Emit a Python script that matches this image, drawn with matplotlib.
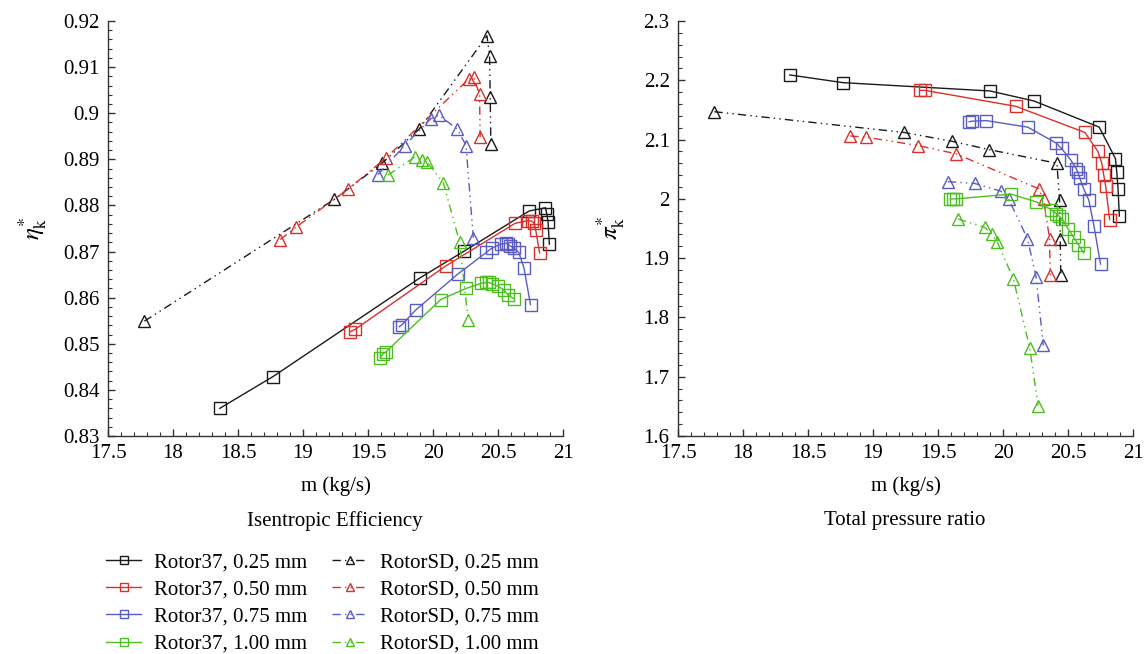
import numpy as np
import matplotlib
matplotlib.use("Agg")
import matplotlib.pyplot as plt
from matplotlib.ticker import MultipleLocator

plt.rcParams['font.family'] = ['Liberation Serif', 'DejaVu Serif']
plt.rcParams['mathtext.fontset'] = 'stix'

# ---- data ----
gaps = ['0.25 mm', '0.50 mm', '0.75 mm', '1.00 mm']
colors = ['#1a1a1a', '#d9302c', '#5b5bc4', '#4cbf1f']

# Rotor37 mass flow (kg/s)
m37_025 = [18.36, 18.77, 19.90, 20.24, 20.74, 20.865, 20.875, 20.885, 20.895]
m37_050 = [19.36, 19.40, 20.10, 20.63, 20.73, 20.76, 20.775, 20.79, 20.82]
m37_075 = [19.74, 19.76, 19.87, 20.19, 20.41, 20.45, 20.52, 20.565, 20.575,
           20.59, 20.62, 20.66, 20.70, 20.75]
m37_100 = [19.595, 19.615, 19.64, 20.06, 20.254, 20.37, 20.41, 20.43, 20.455,
           20.50, 20.543, 20.58, 20.62]

# Rotor37 isentropic efficiency
eff37_025 = [0.8360, 0.8429, 0.8643, 0.8701, 0.8788, 0.8795, 0.8782, 0.8764, 0.8716]
eff37_050 = [0.8526, 0.8531, 0.8669, 0.8761, 0.8767, 0.8766, 0.8762, 0.8747, 0.8697]
eff37_075 = [0.8537, 0.8541, 0.8574, 0.8651, 0.8698, 0.8707, 0.8716, 0.8718, 0.8716,
             0.8713, 0.8708, 0.8698, 0.8664, 0.8585]
eff37_100 = [0.8470, 0.8478, 0.8483, 0.8596, 0.8620, 0.8631, 0.8633, 0.8633, 0.8630,
             0.8625, 0.8617, 0.8605, 0.8598]

# Rotor37 total pressure ratio
pr37_025 = [2.209, 2.196, 2.182, 2.165, 2.121, 2.068, 2.046, 2.017, 1.971]
pr37_050 = [2.183, 2.183, 2.156, 2.112, 2.080, 2.060, 2.040, 2.021, 1.965]
pr37_075 = [2.130, 2.131, 2.132, 2.121, 2.094, 2.085, 2.066, 2.050, 2.045,
            2.036, 2.017, 1.998, 1.954, 1.890]
pr37_100 = [2.000, 2.000, 2.000, 2.008, 1.995, 1.982, 1.975, 1.971, 1.966,
            1.950, 1.935, 1.923, 1.909]

# RotorSD mass flow (kg/s)
msd_025 = [17.78, 19.24, 19.61, 19.895, 20.415, 20.435, 20.44, 20.445]
msd_050 = [18.825, 18.947, 19.345, 19.638, 20.274, 20.312, 20.358, 20.363]
msd_075 = [19.576, 19.782, 19.983, 20.045, 20.188, 20.254, 20.31]
msd_100 = [19.654, 19.859, 19.912, 19.954, 20.08, 20.205, 20.27]

# RotorSD isentropic efficiency
effsd_025 = [0.8549, 0.8813, 0.8892, 0.8966, 0.9168, 0.9124, 0.9035, 0.8934]
effsd_050 = [0.8726, 0.8753, 0.8835, 0.8903, 0.9074, 0.9078, 0.9041, 0.8948]
effsd_075 = [0.8867, 0.8930, 0.8988, 0.8996, 0.8965, 0.8930, 0.8730]
effsd_100 = [0.8866, 0.8905, 0.8899, 0.8894, 0.8849, 0.8720, 0.8552]

# RotorSD total pressure ratio
prsd_025 = [2.147, 2.112, 2.097, 2.083, 2.060, 1.998, 1.933, 1.871]
prsd_050 = [2.106, 2.104, 2.090, 2.076, 2.017, 1.999, 1.933, 1.871]
prsd_075 = [2.029, 2.026, 2.013, 1.999, 1.933, 1.869, 1.753]
prsd_100 = [1.966, 1.952, 1.941, 1.928, 1.865, 1.749, 1.651]

m37 = [m37_025, m37_050, m37_075, m37_100]
eff37 = [eff37_025, eff37_050, eff37_075, eff37_100]
pr37 = [pr37_025, pr37_050, pr37_075, pr37_100]
msd = [msd_025, msd_050, msd_075, msd_100]
effsd = [effsd_025, effsd_050, effsd_075, effsd_100]
prsd = [prsd_025, prsd_050, prsd_075, prsd_100]

W, H = 1145, 654
fig = plt.figure(figsize=(W / 100, H / 100), dpi=100)
ax1 = fig.add_axes([108 / W, 1 - 436 / H, 455 / W, 415 / H])
ax2 = fig.add_axes([678 / W, 1 - 436 / H, 455 / W, 415 / H])

dashdotdot = (0, (6, 3, 1, 3, 1, 3))
sq = dict(marker='s', markersize=8, markerfacecolor='none', markeredgewidth=1.0)
tri = dict(marker='^', markersize=8.5, markerfacecolor='none', markeredgewidth=1.0)

handles37, handlessd = [], []
for ax, y37, ysd in [(ax1, eff37, effsd), (ax2, pr37, prsd)]:
    for i in range(4):
        h1, = ax.plot(m37[i], y37[i], '-', color=colors[i], lw=1.0,
                      markeredgecolor=colors[i], **sq)
        h2, = ax.plot(msd[i], ysd[i], linestyle=dashdotdot, color=colors[i], lw=1.0,
                      markeredgecolor=colors[i], **tri)
        if ax is ax1:
            handles37.append(h1)
            handlessd.append(h2)

for ax in (ax1, ax2):
    ax.set_xlim(17.5, 21)
    ax.xaxis.set_major_locator(MultipleLocator(0.5))
    ax.xaxis.set_minor_locator(MultipleLocator(0.1))
    ax.spines['top'].set_visible(False)
    ax.spines['right'].set_visible(False)
    for s in ('left', 'bottom'):
        ax.spines[s].set_linewidth(1.0)
        ax.spines[s].set_color('#333333')
    ax.tick_params(which='both', direction='in', top=False, right=False,
                   labelsize=15, color='#333333')
    ax.tick_params(which='major', length=5, width=1.0, pad=6)
    ax.tick_params(which='minor', length=3, width=0.8)
    ax.xaxis.set_major_formatter(plt.FuncFormatter(lambda v, p: f'{v:g}'))
    ax.yaxis.set_major_formatter(plt.FuncFormatter(lambda v, p: f'{v:g}'))
    ax.set_xlabel('m (kg/s)', fontsize=15, labelpad=9)

ax1.set_ylim(0.83, 0.92)
ax1.yaxis.set_major_locator(MultipleLocator(0.01))
ax1.yaxis.set_minor_locator(MultipleLocator(0.002))
ax1.set_ylabel(r'$\eta_{\mathrm{k}}^{*}$', fontsize=18, labelpad=10)

ax2.set_ylim(1.6, 2.3)
ax2.yaxis.set_major_locator(MultipleLocator(0.1))
ax2.yaxis.set_minor_locator(MultipleLocator(0.02))
ax2.set_ylabel(r'$\pi_{\mathrm{k}}^{*}$', fontsize=18, labelpad=12)

fig.text(335 / W, 1 - 521 / H, 'Isentropic Efficiency', ha='center', va='center', fontsize=15)
fig.text(905 / W, 1 - 521 / H, 'Total pressure ratio', ha='center', va='center', fontsize=15)

labels37 = ['Rotor37, ' + g for g in gaps]
labelssd = ['RotorSD, ' + g for g in gaps]
fig.legend(handles37 + handlessd, labels37 + labelssd, ncol=2,
           loc='upper left', bbox_to_anchor=(106 / W, 1 - 553 / H),
           frameon=False, fontsize=15, borderpad=0, borderaxespad=0,
           handlelength=1.7, handletextpad=0.6, columnspacing=1.2,
           labelspacing=0.36, markerscale=0.7)

fig.savefig('out.png', dpi=100)
